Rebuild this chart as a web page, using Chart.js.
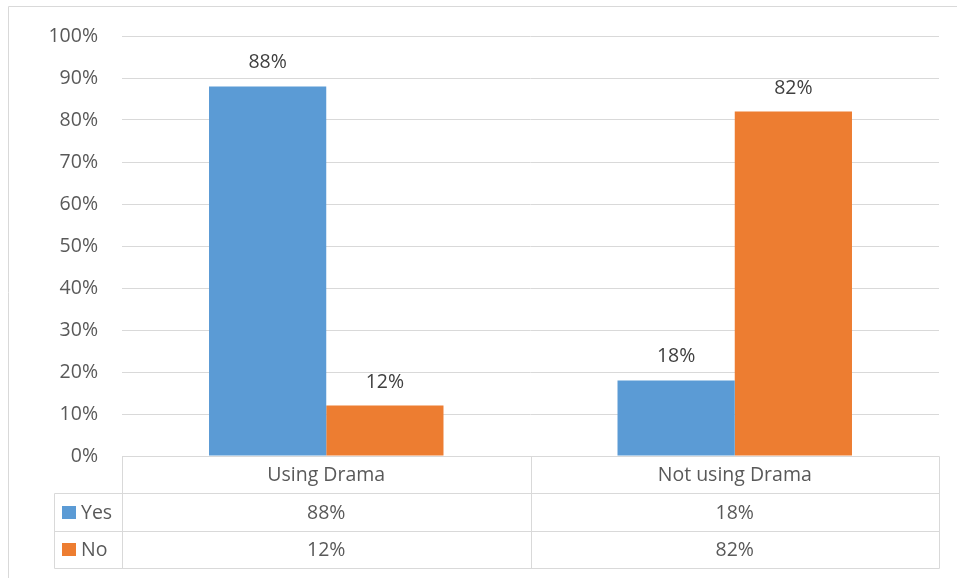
<!DOCTYPE html>
<html>
<head>
<meta charset="utf-8">
<script src="https://cdn.jsdelivr.net/npm/chart.js@4/dist/chart.umd.min.js"></script>
<style>
  html, body { margin: 0; padding: 0; background: #fff; }
  #wrap { position: relative; width: 957px; height: 578px; }
</style>
</head>
<body>
<div id="wrap"><canvas id="chart" width="957" height="578"></canvas></div>
<script>
/* ---- data ---- */
const categories = ['Using Drama', 'Not using Drama'];
const seriesNames = ['Yes', 'No'];
const yesValues = [88, 18];
const noValues = [12, 82];
const yTicks = [0, 10, 20, 30, 40, 50, 60, 70, 80, 90, 100];

const COLORS = ['#5B9BD5', '#ED7D31'];
const GRID = '#d9d9d9';
const TEXT = '#595959';
const FONT = "'Open Sans', 'Liberation Sans', sans-serif";
const FONT_SIZE = 19.5;

/* ---- data labels above bars ---- */
const valueLabels = {
  id: 'valueLabels',
  afterDatasetsDraw(chart) {
    const ctx = chart.ctx;
    ctx.save();
    ctx.font = `${FONT_SIZE}px ${FONT}`;
    ctx.fillStyle = '#404040';
    ctx.textAlign = 'center';
    ctx.textBaseline = 'alphabetic';
    chart.data.datasets.forEach((ds, i) => {
      chart.getDatasetMeta(i).data.forEach((bar, j) => {
        ctx.fillText(`${ds.data[j]}%`, bar.x, bar.y - 18);
      });
    });
    ctx.restore();
  },
};

/* ---- Excel-style data table under the plot + outer frame ---- */
const dataTable = {
  id: 'dataTable',
  afterDraw(chart) {
    const ctx = chart.ctx;
    const area = chart.chartArea;
    const x = chart.scales.x;
    const rowH = 37.3;
    const top = area.bottom;
    const legendLeft = 54;
    const half = (x.getPixelForValue(1) - x.getPixelForValue(0)) / 2;
    const bounds = categories.map((_, i) => x.getPixelForValue(i) - half);
    bounds.push(x.getPixelForValue(categories.length - 1) + half);

    ctx.save();
    ctx.strokeStyle = GRID;
    ctx.lineWidth = 1;
    const line = (x1, y1, x2, y2) => {
      ctx.beginPath();
      ctx.moveTo(Math.round(x1) + 0.5, Math.round(y1) + 0.5);
      ctx.lineTo(Math.round(x2) + 0.5, Math.round(y2) + 0.5);
      ctx.stroke();
    };

    // outer chart frame
    line(8, 6, chart.width, 6);
    line(8, 6, 8, chart.height);

    // horizontal rules
    line(area.left, top, area.right, top);
    for (let r = 1; r <= seriesNames.length + 1; r++) {
      line(legendLeft, top + rowH * r, area.right, top + rowH * r);
    }
    // vertical rules
    bounds.forEach((b) => line(b, top, b, top + rowH * (seriesNames.length + 1)));
    line(legendLeft, top + rowH, legendLeft, top + rowH * (seriesNames.length + 1));

    ctx.font = `${FONT_SIZE}px ${FONT}`;
    ctx.fillStyle = TEXT;
    ctx.textBaseline = 'middle';
    ctx.textAlign = 'center';
    categories.forEach((c, i) => ctx.fillText(c, x.getPixelForValue(i), top + rowH / 2 + 1));

    const rows = [yesValues, noValues];
    rows.forEach((vals, r) => {
      const cy = top + rowH * (r + 1.5) + 1;
      ctx.textAlign = 'center';
      ctx.fillStyle = TEXT;
      vals.forEach((v, i) => ctx.fillText(`${v}%`, x.getPixelForValue(i), cy));
      ctx.fillStyle = COLORS[r];
      ctx.fillRect(62, Math.round(cy) - 7, 14, 13);
      ctx.fillStyle = TEXT;
      ctx.textAlign = 'left';
      ctx.fillText(seriesNames[r], 81, cy);
    });
    ctx.restore();
  },
};

new Chart(document.getElementById('chart'), {
  type: 'bar',
  data: {
    labels: categories,
    datasets: [
      { label: seriesNames[0], data: yesValues, backgroundColor: COLORS[0] },
      { label: seriesNames[1], data: noValues, backgroundColor: COLORS[1] },
    ],
  },
  options: {
    responsive: false,
    animation: false,
    layout: { padding: { top: 36, bottom: 122, right: 18, left: 0 } },
    datasets: { bar: { categoryPercentage: 0.574, barPercentage: 1 } },
    plugins: { legend: { display: false }, tooltip: { enabled: false } },
    scales: {
      x: { display: false },
      y: {
        min: 0, max: 100,
        afterFit: (s) => { s.width = 122; },
        afterBuildTicks: (s) => { s.ticks = yTicks.map((v) => ({ value: v })); },
        border: { display: false },
        grid: { color: GRID, drawTicks: false },
        ticks: {
          padding: 24,
          color: TEXT,
          font: { family: FONT, size: FONT_SIZE },
          callback: (v) => `${v}%`,
        },
      },
    },
  },
  plugins: [valueLabels, dataTable],
});
</script>
</body>
</html>
